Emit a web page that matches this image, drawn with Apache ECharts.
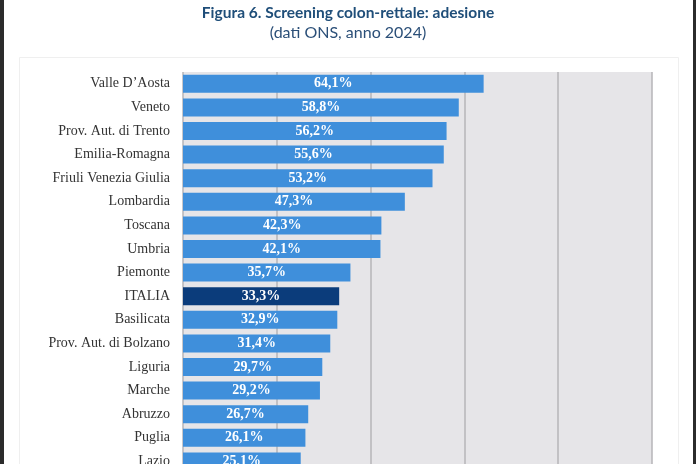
<!DOCTYPE html>
<html>
<head>
<meta charset="UTF-8">
<title>Screening colon-rettale</title>
<script src="https://cdn.jsdelivr.net/npm/echarts@6/dist/echarts.min.js"></script>
<style>
    html, body { margin: 0; padding: 0; background: #fff; overflow: hidden; }
    /* il grafico originale e' tagliato in basso: il contenitore va oltre la finestra */
    #chart { width: 696px; height: 480px; }
</style>
</head>
<body>
<div id="chart"></div>
<script type="text/javascript">
    // dati (la parte bassa e' tagliata)
    var regioni = ['Valle D\u2019Aosta', 'Veneto', 'Prov. Aut. di Trento', 'Emilia-Romagna',
        'Friuli Venezia Giulia', 'Lombardia', 'Toscana', 'Umbria', 'Piemonte', 'ITALIA',
        'Basilicata', 'Prov. Aut. di Bolzano', 'Liguria', 'Marche', 'Abruzzo', 'Puglia', 'Lazio'];
    var adesione = [64.1, 58.8, 56.2, 55.6, 53.2, 47.3, 42.3, 42.1, 35.7, 33.3,
        32.9, 31.4, 29.7, 29.2, 26.7, 26.1, 25.1];
    var tickX = [0, 20, 40, 60, 80, 100];

    var blu = '#3f8fdb';
    var bluItalia = '#0b3c7b';

    var myChart = echarts.init(document.getElementById('chart'));

    var option = {
        backgroundColor: '#ffffff',
        animation: false,
        title: {
            text: 'Figura 6. Screening colon-rettale: adesione',
            subtext: '(dati ONS, anno 2024)',
            left: 'center',
            top: 0,
            itemGap: 4,
            textStyle: {
                fontFamily: 'Lato',
                fontSize: 15.5,
                fontWeight: 'bold',
                color: '#1f4e79'
            },
            subtextStyle: {
                fontFamily: 'Lato',
                fontSize: 16,
                color: '#2b4f78'
            }
        },
        graphic: [
            // cornice grigio chiaro e bordi scuri dello screenshot
            { type: 'rect', shape: { x: 19.5, y: 57.5, width: 659, height: 440 },
              style: { fill: 'none', stroke: '#efefef', lineWidth: 1 }, z: -1 },
            { type: 'rect', shape: { x: 0, y: 0, width: 4, height: 480 },
              style: { fill: '#2b2b2b' } },
            { type: 'rect', shape: { x: 693, y: 0, width: 3, height: 480 },
              style: { fill: '#2b2b2b' } }
        ],
        grid: {
            left: 183,
            right: 44,
            top: 72,
            height: regioni.length * 23.6,
            show: true,
            backgroundColor: '#e6e5e8',
            borderWidth: 0
        },
        xAxis: {
            type: 'value',
            min: tickX[0],
            max: tickX[tickX.length - 1],
            interval: tickX[1] - tickX[0],
            axisLine: { show: false },
            axisTick: { show: false },
            axisLabel: { show: false },
            splitLine: {
                show: true,
                lineStyle: { color: '#b6b5b9', width: 1.5 }
            }
        },
        yAxis: {
            type: 'category',
            inverse: true,
            data: regioni,
            axisLine: { show: false },
            axisTick: { show: false },
            axisLabel: {
                margin: 13,
                fontFamily: 'Liberation Serif',
                fontSize: 14,
                color: '#333333'
            }
        },
        series: [{
            type: 'bar',
            barWidth: 18,
            data: adesione.map(function (v, i) {
                return {
                    value: v,
                    itemStyle: { color: regioni[i] === 'ITALIA' ? bluItalia : blu }
                };
            }),
            label: {
                show: true,
                position: 'inside',
                fontFamily: 'Liberation Serif',
                fontSize: 14,
                fontWeight: 'bold',
                color: '#ffffff',
                formatter: function (p) {
                    return p.value.toFixed(1).replace('.', ',') + '%';
                }
            }
        }]
    };
    myChart.setOption(option);
</script>
</body>
</html>
